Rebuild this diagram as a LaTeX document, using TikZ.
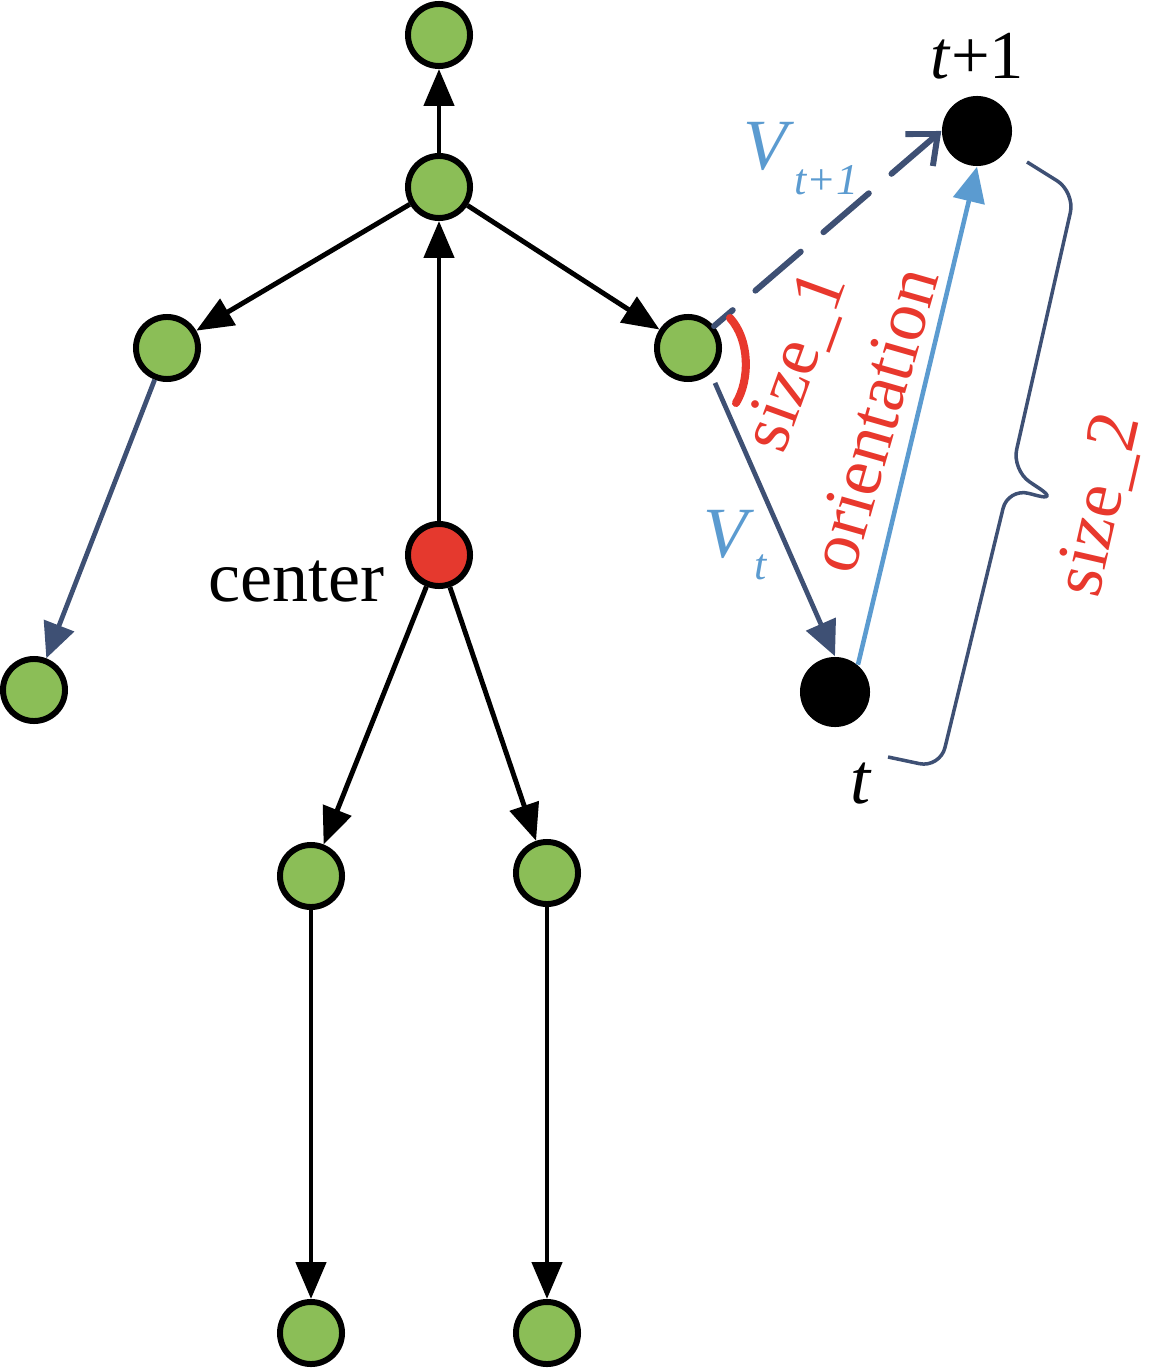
\documentclass[tikz,border=0pt]{standalone}
\usepackage{fontspec}
\setmainfont{Liberation Serif}
\usetikzlibrary{arrows.meta}

\definecolor{jointgreen}{RGB}{139,190,87}
\definecolor{rootred}{RGB}{229,57,46}
\definecolor{slate}{RGB}{62,80,116}
\definecolor{skyblue}{RGB}{91,155,208}
\definecolor{labelred}{RGB}{232,56,45}

\tikzset{
  joint/.style={circle, draw=black, line width=1.7pt, fill=jointgreen,
    minimum size=0.62cm, inner sep=0pt},
  rootjoint/.style={joint, fill=rootred},
  pospoint/.style={circle, fill=black, minimum size=0.70cm, inner sep=0pt},
  bone/.style={line width=1.4pt, -{Triangle[length=10.5pt,width=8.5pt]}},
  thinbone/.style={line width=1.35pt, draw=slate, -{Triangle[length=10pt,width=9pt]}},
  bigtext/.style={font=\fontsize{20.5}{24}\selectfont, inner sep=0pt},
}

\begin{document}
\begin{tikzpicture}[x=0.01cm, y=-0.01cm]
  \useasboundingbox (0,0) rectangle (1162,1370);

  % Skeleton joints
  \node[joint] (head) at (439,35) {};
  \node[joint] (neck) at (439,187) {};
  \node[joint] (lsh) at (167,348) {};
  \node[joint] (rsh) at (688,348) {};
  \node[joint] (lhand) at (34,690) {};
  \node[rootjoint] (ctr) at (439,555) {};
  \node[joint] (lhip) at (311,876) {};
  \node[joint] (rhip) at (547,873) {};
  \node[joint] (lfoot) at (311,1333) {};
  \node[joint] (rfoot) at (547,1333) {};

  % Positions at t and t+1
  \node[pospoint] (tnow) at (835,692) {};
  \node[pospoint] (tnext) at (977,131) {};

  % Bones
  \draw[bone] (neck) -- (head);
  \draw[bone] (ctr) -- (neck);
  \draw[bone] (neck) -- (lsh);
  \draw[bone] (neck) -- (rsh);
  \draw[bone] (ctr) -- (lhip);
  \draw[bone] (ctr) -- (rhip);
  \draw[bone] (lhip) -- (lfoot);
  \draw[bone] (rhip) -- (rfoot);
  \draw[thinbone] (lsh) -- (lhand);

  % Motion vectors
  \draw[thinbone, shorten <=3pt] (rsh.-48) -- (tnow.north);
  \draw[line width=1.3pt, skyblue, -{Triangle[length=10pt,width=9pt]}] (tnow.50) -- (tnext.south);
  \draw[line width=1.7pt, slate, line cap=round, dash pattern=on 17pt off 8.5pt,
    dash phase=10pt, -{Straight Barb[length=7pt,width=12pt]}] (rsh.40) -- (tnext.west);

  % Angle mark (size_1)
  \draw[labelred, line width=2.3pt, line cap=round]
    (730,318) .. controls (750,340) and (750,380) .. (736,403);

  % Brace (size_2)
  \draw[slate, line width=1pt, rounded corners=6pt]
    (888,757) -- (940,768) -- (1008,488) -- (1058,501) -- (1012,470) -- (1075,192) -- (1027,162);

  % Labels
  \node[bigtext, anchor=base west] (lblctr) at (208,601) {center};
  \node[bigtext, anchor=base west, font=\fontsize{19.5}{24}\selectfont] (lbltnext) at (930,79) {\textit{t}+1};
  \node[bigtext, anchor=base west] (lbltnow) at (850,803) {\textit{t}};
  \node[bigtext, anchor=base west, text=skyblue] (lblvnext) at (743,170)
    {\textit{V}\raisebox{-7pt}{\fontsize{12.5}{14}\selectfont\textit{t+1}}};
  \node[bigtext, anchor=base west, text=skyblue] (lblvnow) at (703,557)
    {\textit{V}\raisebox{-6.5pt}{\fontsize{12.5}{14}\selectfont\textit{t}}};
  \node[bigtext, text=labelred, rotate=70] (lblsizea) at (797,362) {size\_1};
  \node[bigtext, text=labelred, rotate=74] (lblorient) at (874,420) {orientation};
  \node[bigtext, text=labelred, rotate=77] (lblsizeb) at (1100,505) {size\_2};
\end{tikzpicture}
\end{document}
